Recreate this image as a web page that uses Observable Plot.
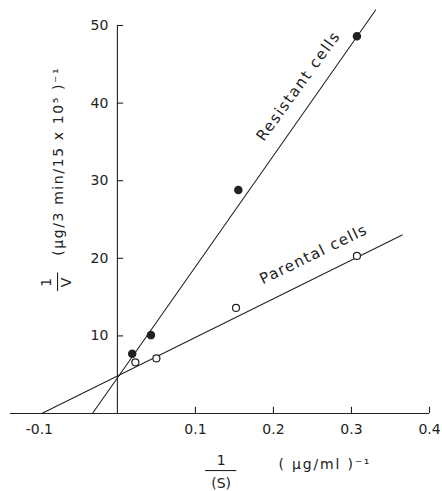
<!DOCTYPE html>
<html>
<head>
<meta charset="utf-8">
<script src="https://cdn.jsdelivr.net/npm/d3@7"></script>
<script src="https://cdn.jsdelivr.net/npm/@observablehq/plot@0.6"></script>
<style>
  html, body { margin: 0; padding: 0; background: #fff; }
  #chart svg { display: block; }
</style>
</head>
<body>
<div id="chart"></div>
<script>
// Data (Lineweaver–Burk plot)
const xTicks = [-0.1, 0.1, 0.2, 0.3, 0.4];
const xTickLabels = ["-0.1", "0.1", "0.2", "0.3", "0.4"];
const yTicks = [10, 20, 30, 40, 50];

const resistantX = [0.019, 0.043, 0.155, 0.307];
const resistantY = [7.7, 10.1, 28.8, 48.6];
const parentalX = [0.023, 0.050, 0.152, 0.307];
const parentalY = [6.6, 7.1, 13.6, 20.3];

// fitted lines (endpoints)
const resistantFitX = [-0.032, 0.331];
const resistantFitY = [0, 52];
const parentalFitX = [-0.097, 0.365];
const parentalFitY = [0, 23];

const seriesLabels = ["Resistant cells", "Parental cells"];
const yTitle = "(μg/3 min/15 x 10⁵ )⁻¹";
const xUnit = "( μg/ml )⁻¹";

const resistant = resistantX.map((x, i) => ({x, y: resistantY[i]}));
const parental = parentalX.map((x, i) => ({x, y: parentalY[i]}));
const resistantFit = resistantFitX.map((x, i) => ({x, y: resistantFitY[i]}));
const parentalFit = parentalFitX.map((x, i) => ({x, y: parentalFitY[i]}));
const xTickData = xTicks.map((x, i) => ({x, label: xTickLabels[i]}));

const ink = "#222";
const font = "DejaVu Sans, sans-serif";

const chart = Plot.plot({
  width: 442,
  height: 491,
  marginLeft: 10,
  marginRight: 13,
  marginTop: 25,
  marginBottom: 78,
  style: {fontFamily: font, color: ink, background: "#fff", overflow: "visible"},
  x: {domain: [-0.137, 0.4], axis: null},
  y: {domain: [0, 50], axis: null},
  marks: [
    // axes
    Plot.ruleY([0], {x1: -0.137, x2: 0.4, stroke: ink, strokeWidth: 1.1}),
    Plot.ruleX([0], {y1: 0, y2: 50, stroke: ink, strokeWidth: 1.1}),
    // inward ticks
    Plot.ruleX(xTicks.filter(d => d > 0), {x: d => d, y1: 0, y2: 0.8, stroke: ink, strokeWidth: 1.1}),
    Plot.ruleY(yTicks, {y: d => d, x1: 0, x2: 0.008, stroke: ink, strokeWidth: 1.1}),
    // tick labels
    Plot.text(xTickData, {x: "x", y: 0, text: "label", dy: 16, fontSize: 14, fill: ink}),
    Plot.text(yTicks, {x: 0, y: d => d, text: d => String(d), textAnchor: "end", dx: -9, fontSize: 14, fill: ink}),
    // fit lines
    Plot.line(resistantFit, {x: "x", y: "y", stroke: ink, strokeWidth: 1.1}),
    Plot.line(parentalFit, {x: "x", y: "y", stroke: ink, strokeWidth: 1.1}),
    // points
    Plot.dot(resistant, {x: "x", y: "y", r: 3.5, fill: ink, stroke: ink}),
    Plot.dot(parental, {x: "x", y: "y", r: 3.5, fill: "#fff", stroke: ink, strokeWidth: 1.2}),
    // line labels
    Plot.text([seriesLabels[0]], {x: 0.232, y: 42.2, text: d => d, rotate: -54, fontSize: 15, fill: ink}),
    Plot.text([seriesLabels[1]], {x: 0.2515, y: 20.5, text: d => d, rotate: -26, fontSize: 15, fill: ink}),
    // y-axis title: 1/V (µg/3 min/15 x 10^5)^-1
    Plot.text([yTitle], {x: -0.0755, y: 32.5, text: d => d, rotate: -90, fontSize: 14, fill: ink}),
    Plot.text(["1"], {x: -0.0905, y: 16.9, text: d => d, rotate: -90, fontSize: 14, fill: ink}),
    Plot.ruleX([-0.0767], {y1: 15.7, y2: 18.1, stroke: ink, strokeWidth: 1.1}),
    Plot.text(["V"], {x: -0.0655, y: 16.9, text: d => d, rotate: -90, fontSize: 14, fill: ink}),
    // x-axis title: 1/(S) (µg/ml)^-1
    Plot.text(["1"], {x: 0.133, y: -6.0, text: d => d, fontSize: 14, fill: ink}),
    Plot.ruleY([-7.35], {x1: 0.113, x2: 0.153, stroke: ink, strokeWidth: 1.1}),
    Plot.text(["(S)"], {x: 0.133, y: -9.0, text: d => d, fontSize: 14, fill: ink}),
    Plot.text([xUnit], {x: 0.2066, y: -6.6, text: d => d, textAnchor: "start", fontSize: 14, fill: ink})
  ]
});
document.getElementById("chart").appendChild(chart);

// widen the lettering like the hand-lettered original
const spacing = new Map([
  [seriesLabels[0], "1.6px"],
  [seriesLabels[1], "1.3px"],
  [yTitle, "1.6px"],
  [xUnit, "1.8px"]
]);
d3.select(chart).selectAll("text").each(function() {
  const s = spacing.get(this.textContent);
  if (s) this.style.letterSpacing = s;
});
</script>
</body>
</html>
